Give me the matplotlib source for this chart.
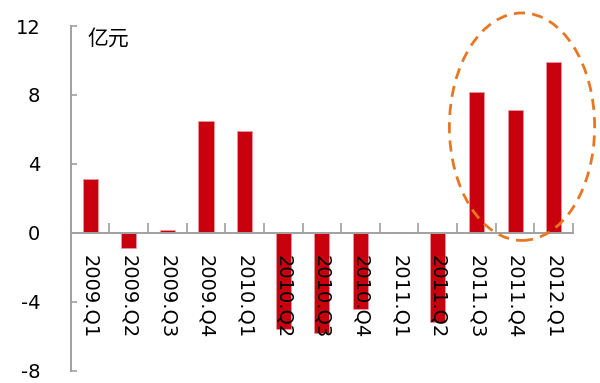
import matplotlib.pyplot as plt
from matplotlib.patches import Ellipse

plt.rcParams['font.family'] = ['DejaVu Sans', 'Noto Sans CJK SC']

quarters = ['2009.Q1', '2009.Q2', '2009.Q3', '2009.Q4', '2010.Q1', '2010.Q2',
            '2010.Q3', '2010.Q4', '2011.Q1', '2011.Q2', '2011.Q3', '2011.Q4',
            '2012.Q1']
values = [3.1, -0.9, 0.15, 6.5, 5.9, -5.6, -5.8, -4.4, 0.0, -5.2, 8.2, 7.1, 9.9]
yticks = [-8, -4, 0, 4, 8, 12]

fig = plt.figure(figsize=(6, 3.83), dpi=100)
ax = fig.add_axes([0.118, 0.032, 0.837, 0.9])

x = list(range(len(quarters)))
ax.bar(x, values, width=0.39, color='#C9000E', edgecolor='#E8A0A6',
       linewidth=0.4, zorder=2)

ax.set_xlim(-0.5, len(quarters) - 0.5)
ax.set_ylim(-8, 12)

axis_grey = '#A0A0A0'
for side in ['top', 'right']:
    ax.spines[side].set_visible(False)
ax.spines['left'].set_color(axis_grey)
ax.spines['left'].set_linewidth(1.4)
ax.spines['bottom'].set_position(('data', 0))
ax.spines['bottom'].set_color(axis_grey)
ax.spines['bottom'].set_linewidth(1.4)
ax.spines['bottom'].set_zorder(3)

ax.set_yticks(yticks)
ax.set_yticklabels([str(v) for v in yticks])
ax.tick_params(axis='y', direction='in', length=4, width=1.2,
               color=axis_grey, pad=22, labelsize=14)

# category labels run top-to-bottom just under the zero line, over the bars
ax.set_xticks(x)
ax.set_xticklabels(quarters, rotation=270, va='top', ha='center')
ax.tick_params(axis='x', which='major', length=0, pad=16, labelsize=14)
ax.set_xticks([i + 0.5 for i in range(-1, len(quarters))], minor=True)
ax.tick_params(axis='x', which='minor', direction='in', length=7,
               width=1.2, color=axis_grey)
ax.xaxis.set_zorder(4)

ax.text(0.034, 0.963, '亿元', transform=ax.transAxes, fontsize=15,
        family=['Noto Sans CJK SC'], va='center', ha='left')

# dashed ring around the last three quarters
ring = Ellipse((11.18, 6.16), width=3.76, height=13.2, fill=False,
               edgecolor='#E87722', linewidth=2, linestyle=(0, (4, 2.6)),
               clip_on=False, zorder=5)
ax.add_patch(ring)

fig.savefig('out.png', dpi=100)
